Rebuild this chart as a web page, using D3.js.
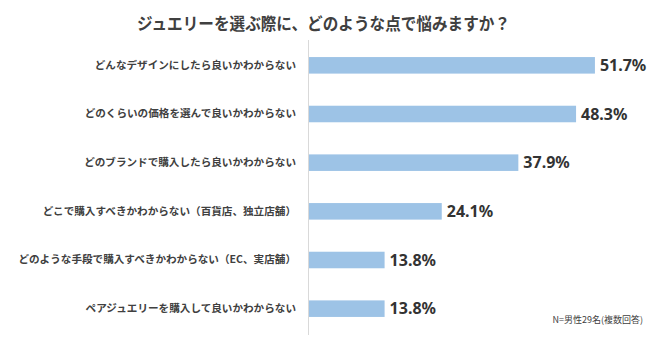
<!DOCTYPE html>
<html>
<head>
<meta charset="utf-8">
<script src="https://cdn.jsdelivr.net/npm/d3@7"></script>
<style>
  html, body { margin: 0; padding: 0; background: #ffffff; }
  svg { display: block; }
</style>
</head>
<body>
<svg id="chart" width="650" height="343"></svg>
<script>
// Survey answers: what people worry about when choosing jewelry
const categories = [
  "どんなデザインにしたら良いかわからない",
  "どのくらいの価格を選んで良いかわからない",
  "どのブランドで購入したら良いかわからない",
  "どこで購入すべきかわからない（百貨店、独立店舗）",
  "どのような手段で購入すべきかわからない（EC、実店舗）",
  "ペアジュエリーを購入して良いかわからない"
];
const values = [51.7, 48.3, 37.9, 24.1, 13.8, 13.8];
const titleText = "ジュエリーを選ぶ際に、どのような点で悩みますか？";
const noteText = "N=男性29名(複数回答)";

const svg = d3.select("#chart");
const jpFont = "'Noto Sans CJK JP', 'Noto Sans', sans-serif";

const x = d3.scaleLinear().domain([0, 60]).range([308, 641]);
const y = d3.scaleBand()
  .domain(categories)
  .range([41, 333])
  .paddingInner(0.66)
  .paddingOuter(0.33);

// Title, set in a condensed width
svg.append("text")
  .attr("x", 137)
  .attr("y", 30)
  .attr("font-family", jpFont)
  .attr("font-weight", "bold")
  .attr("font-size", 17)
  .attr("textLength", 373)
  .attr("lengthAdjust", "spacingAndGlyphs")
  .attr("fill", "#404040")
  .text(titleText);

// Bars
svg.append("g")
  .selectAll("rect")
  .data(values)
  .join("rect")
  .attr("x", x(0))
  .attr("y", (d, i) => y(categories[i]))
  .attr("width", d => x(d) - x(0))
  .attr("height", y.bandwidth())
  .attr("fill", "#9dc3e6");

// Category axis on the left
const yAxis = svg.append("g")
  .attr("transform", `translate(${x(0)},0)`)
  .call(d3.axisLeft(y).tickSize(0).tickPadding(12));
yAxis.select(".domain")
  .attr("stroke", "#d9d9d9")
  .attr("stroke-width", 1)
  .attr("d", `M0.5,40V335`);
yAxis.selectAll("text")
  .attr("font-family", jpFont)
  .attr("font-size", 10.6)
  .attr("font-weight", "bold")
  .attr("fill", "#404040");

// Value labels
svg.append("g")
  .selectAll("text")
  .data(values)
  .join("text")
  .attr("x", d => x(d) + 5)
  .attr("y", (d, i) => y(categories[i]) + y.bandwidth() / 2)
  .attr("dy", "0.36em")
  .attr("font-family", "'Noto Sans', sans-serif")
  .attr("font-weight", "bold")
  .attr("font-size", 16)
  .attr("fill", "#333333")
  .text(d => d.toFixed(1) + "%");

// Sample note
svg.append("text")
  .attr("x", 643)
  .attr("y", 323)
  .attr("text-anchor", "end")
  .attr("font-family", jpFont)
  .attr("font-size", 9)
  .attr("fill", "#404040")
  .text(noteText);
</script>
</body>
</html>
